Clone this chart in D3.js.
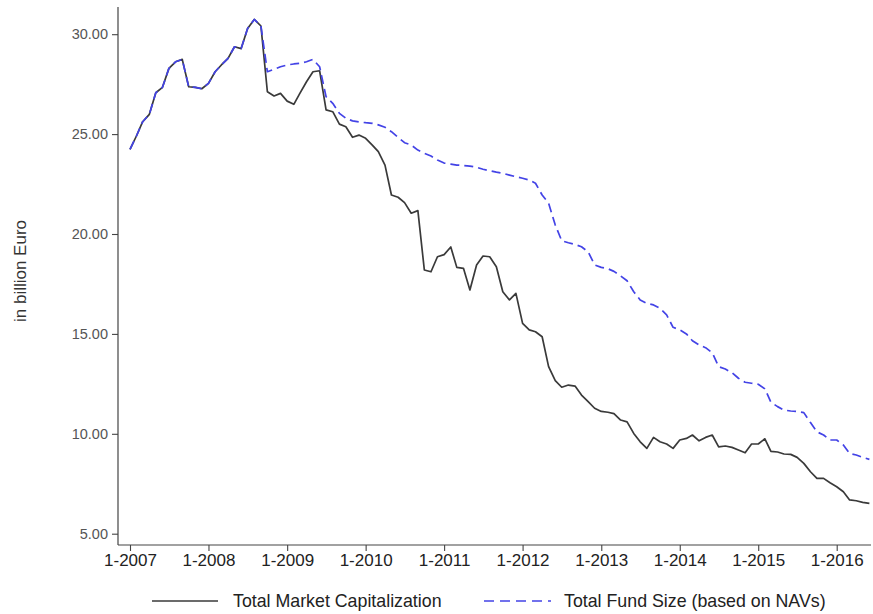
<!DOCTYPE html>
<html>
<head>
<meta charset="utf-8">
<script src="https://cdn.jsdelivr.net/npm/d3@7"></script>
<style>
  html, body { margin: 0; padding: 0; background: #fff; }
  svg { display: block; font-family: "Liberation Sans", Arial, sans-serif; }
</style>
</head>
<body>
<svg id="chart" width="873" height="614"></svg>
<script>
// Monthly observations, January 2007 to June 2016 (billion Euro)
const startMonth = new Date(2007, 0, 1);
const endMonth = new Date(2016, 6, 1);

const marketCap = [
  24.24, 24.93, 25.62, 25.99, 27.07, 27.34, 28.29, 28.62, 28.74, 27.37, 27.34, 27.27,
  27.54, 28.12, 28.46, 28.79, 29.37, 29.28, 30.29, 30.74, 30.41, 27.12, 26.91, 27.04,
  26.65, 26.49, 27.04, 27.62, 28.12, 28.17, 26.21, 26.12, 25.50, 25.37, 24.84, 24.95,
  24.79, 24.45, 24.12, 23.45, 21.95, 21.84, 21.57, 21.04, 21.17, 18.20, 18.11, 18.86,
  18.97, 19.35, 18.33, 18.28, 17.20, 18.45, 18.90, 18.86, 18.36, 17.11, 16.70, 17.03,
  15.53, 15.20, 15.11, 14.86, 13.36, 12.66, 12.33, 12.44, 12.39, 11.94, 11.61, 11.28,
  11.12, 11.08, 11.01, 10.69, 10.60, 10.02, 9.60, 9.27, 9.82, 9.60, 9.49, 9.27,
  9.69, 9.77, 9.94, 9.65, 9.82, 9.94, 9.35, 9.39, 9.32, 9.19, 9.05, 9.49,
  9.49, 9.75, 9.12, 9.09, 8.99, 8.97, 8.82, 8.52, 8.10, 7.77, 7.77, 7.55,
  7.35, 7.10, 6.69, 6.65, 6.57, 6.52
];

const fundSize = [
  24.24, 24.93, 25.62, 25.99, 27.07, 27.34, 28.29, 28.62, 28.74, 27.37, 27.34, 27.27,
  27.54, 28.12, 28.46, 28.79, 29.37, 29.28, 30.29, 30.74, 30.41, 28.12, 28.24, 28.37,
  28.46, 28.51, 28.54, 28.62, 28.74, 28.37, 26.87, 26.54, 26.04, 25.79, 25.66, 25.61,
  25.57, 25.54, 25.46, 25.34, 25.12, 24.84, 24.57, 24.45, 24.20, 24.04, 23.90, 23.70,
  23.55, 23.50, 23.45, 23.43, 23.40, 23.34, 23.24, 23.17, 23.10, 23.04, 22.95, 22.87,
  22.79, 22.70, 22.54, 21.95, 21.54, 20.45, 19.66, 19.56, 19.48, 19.36, 19.11, 18.45,
  18.33, 18.26, 18.13, 17.90, 17.66, 17.11, 16.70, 16.53, 16.45, 16.28, 15.95, 15.33,
  15.20, 15.00, 14.66, 14.45, 14.31, 14.06, 13.36, 13.24, 13.06, 12.78, 12.58, 12.53,
  12.48, 12.25, 11.58, 11.36, 11.19, 11.14, 11.12, 11.06, 10.56, 10.10, 9.94, 9.69,
  9.69, 9.44, 9.02, 8.94, 8.82, 8.72
];

const xTickLabels = ["1-2007", "1-2008", "1-2009", "1-2010", "1-2011", "1-2012", "1-2013", "1-2014", "1-2015", "1-2016"];
const yTickValues = [5, 10, 15, 20, 25, 30];
const seriesNames = ["Total Market Capitalization", "Total Fund Size (based on NAVs)"];
const yAxisTitle = "in billion Euro";

const months = d3.timeMonth.range(startMonth, endMonth);
const xTickDates = xTickLabels.map(s => new Date(+s.split("-")[1], +s.split("-")[0] - 1, 1));

const svg = d3.select("#chart");

// Plot frame
const frameLeft = 118, frameRight = 871, frameTop = 7, frameBottom = 545;

const x = d3.scaleTime()
  .domain([new Date(2007, 0, 1), new Date(2016, 0, 1)])
  .range([130, 836.7]);

const y = d3.scaleLinear()
  .domain([5, 30])
  .range([533.7, 34.2]);

const axisColor = "#444";

// Y axis
const yAxis = svg.append("g")
  .attr("transform", `translate(${frameLeft},0)`)
  .call(d3.axisLeft(y).tickValues(yTickValues).tickFormat(d3.format(".2f")).tickSize(6).tickSizeOuter(0));
yAxis.select(".domain").remove();
yAxis.append("line").attr("x1", 0).attr("x2", 0).attr("y1", frameTop).attr("y2", frameBottom)
  .attr("stroke", axisColor).attr("stroke-width", 1.2);
yAxis.selectAll(".tick line").attr("stroke", axisColor).attr("stroke-width", 1.1);
yAxis.selectAll(".tick text")
  .attr("x", -10)
  .attr("fill", "#555")
  .style("font-size", "14.5px")
  .style("font-family", "'Liberation Sans', Arial, sans-serif");

// X axis
const xAxis = svg.append("g")
  .attr("transform", `translate(0,${frameBottom})`)
  .call(d3.axisBottom(x).tickValues(xTickDates).tickFormat((d, i) => xTickLabels[i]).tickSize(6).tickSizeOuter(0));
xAxis.select(".domain").remove();
xAxis.append("line").attr("x1", frameLeft).attr("x2", frameRight).attr("y1", 0).attr("y2", 0)
  .attr("stroke", axisColor).attr("stroke-width", 1.2);
xAxis.selectAll(".tick line").attr("stroke", axisColor).attr("stroke-width", 1.1);
xAxis.selectAll(".tick text")
  .attr("y", 9)
  .attr("fill", "#222")
  .style("font-size", "17px")
  .style("font-family", "'Liberation Sans', Arial, sans-serif");

// Y axis title
svg.append("text")
  .attr("transform", "translate(26,271) rotate(-90)")
  .attr("text-anchor", "middle")
  .attr("fill", "#333")
  .style("font-size", "17px")
  .text(yAxisTitle);

// Lines
const line = d3.line()
  .x((d, i) => x(months[i]))
  .y(d => y(d));

svg.append("path")
  .datum(marketCap)
  .attr("fill", "none")
  .attr("stroke", "#3a3a3a")
  .attr("stroke-width", 1.7)
  .attr("stroke-linejoin", "round")
  .attr("d", line);

svg.append("path")
  .datum(fundSize)
  .attr("fill", "none")
  .attr("stroke", "#4343e6")
  .attr("stroke-width", 1.7)
  .attr("stroke-dasharray", "9,5")
  .attr("stroke-linejoin", "round")
  .attr("d", line);

// Legend
const legend = svg.append("g").style("font-size", "17.8px").attr("fill", "#222");
legend.append("line").attr("x1", 152).attr("x2", 218).attr("y1", 601).attr("y2", 601)
  .attr("stroke", "#3a3a3a").attr("stroke-width", 1.7);
legend.append("text").attr("x", 233).attr("y", 607).text(seriesNames[0]);
legend.append("line").attr("x1", 484).attr("x2", 551).attr("y1", 601).attr("y2", 601)
  .attr("stroke", "#4343e6").attr("stroke-width", 1.7).attr("stroke-dasharray", "10,6");
legend.append("text").attr("x", 564).attr("y", 607).text(seriesNames[1]);
</script>
</body>
</html>
